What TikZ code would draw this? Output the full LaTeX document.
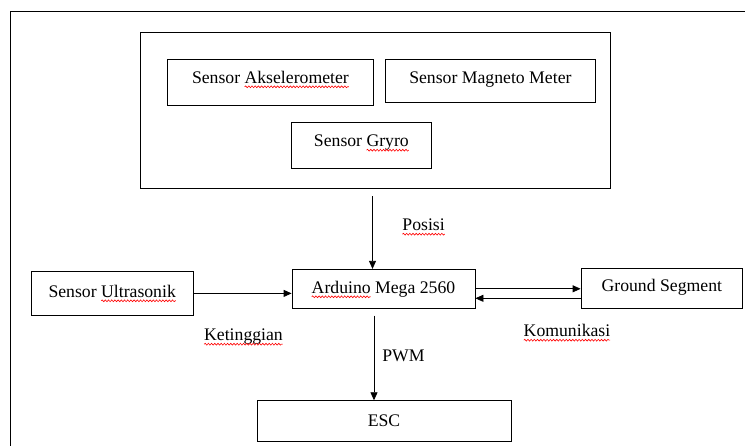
\documentclass[tikz,border=0pt]{standalone}
\usepackage{fontspec}
\setmainfont{Liberation Serif}
\usetikzlibrary{arrows.meta,decorations.pathmorphing}
\newcommand\fsz{\fontsize{17.7pt}{21pt}\selectfont}
% #1 node, #2 offset of the word from the text start, #3 word width
\newcommand\wv[3]{%
  \draw[spellwave] ([xshift=#2pt,yshift=-3.5pt]#1.text) -- ([xshift=#2pt+#3pt,yshift=-3.5pt]#1.text);}
\begin{document}
\begin{tikzpicture}[x=1pt,y=-1pt,font=\fsz,
  box/.style={draw,line width=0.8pt,inner sep=0pt,text height=12pt},
  arr/.style={line width=0.8pt,-{Triangle[length=8pt,width=7pt]}},
  lbl/.style={inner sep=0pt,anchor=base},
  spellwave/.style={draw=red,line width=0.6pt,decorate,decoration={snake,amplitude=0.9pt,segment length=3.2pt}}]
\useasboundingbox (0,0) rectangle (745,446);
% outer frame (cut by the picture edge)
\draw[line width=0.8pt] (746,11.7) -| (10.5,447);
% sensor group
\node[box,minimum width=470pt,minimum height=155.3pt] (grp) at (375,110.4) {};
\node[box,minimum width=205.3pt,minimum height=46pt,text depth=9.4pt] (aks) at (270.4,82) {Sensor Akselerometer};
\node[box,minimum width=209.3pt,minimum height=43.7pt,text depth=7.2pt] (mag) at (490.4,80.9) {Sensor Magneto Meter};
\node[box,minimum width=140.7pt,minimum height=45.6pt,text depth=9.6pt] (gyr) at (361.4,145.5) {Sensor Gryro};
% main row
\node[box,minimum width=183pt,minimum height=39pt,text depth=3pt] (ard) at (383.5,288.8) {Arduino Mega 2560};
\node[box,minimum width=162.4pt,minimum height=43.3pt,text depth=4.2pt] (ult) at (112.2,293.4) {Sensor Ultrasonik};
\node[box,minimum width=161.6pt,minimum height=40pt,text depth=5.2pt] (gnd) at (661.8,288.3) {Ground Segment};
\node[box,minimum width=254pt,minimum height=41pt,text depth=1pt] (esc) at (384,421.2) {ESC};
% labels
\node[lbl] (pos) at (423.6,230.7) {Posisi};
\node[lbl] (ket) at (243.5,340.7) {Ketinggian};
\node[lbl] (kom) at (567,336.7) {Komunikasi};
\node[lbl] (pwm) at (403.5,361.7) {PWM};
% connectors
\draw[arr] ([xshift=-2.5pt,yshift=-8pt]grp.south) -- ([xshift=-11pt]ard.north);
\draw[arr] (ult.east) -- (ult.east -| ard.west);
\draw[arr] (ard.east) -- (ard.east -| gnd.west);
\draw[arr] ([yshift=-10pt]gnd.west) coordinate (g1) -- (g1 -| ard.east);
\draw[arr] ([xshift=-9.5pt,yshift=-7pt]ard.south) -- ([xshift=-10pt]esc.north);
% spell-check underlines
\wv{aks}{52.6}{104.2}
\wv{gyr}{52.6}{42.3}
\wv{ult}{52.6}{74.7}
\wv{ard}{0}{59.0}
\wv{pos}{0}{42.3}
\wv{ket}{0}{78.7}
\wv{kom}{0}{86.5}
\end{tikzpicture}
\end{document}
